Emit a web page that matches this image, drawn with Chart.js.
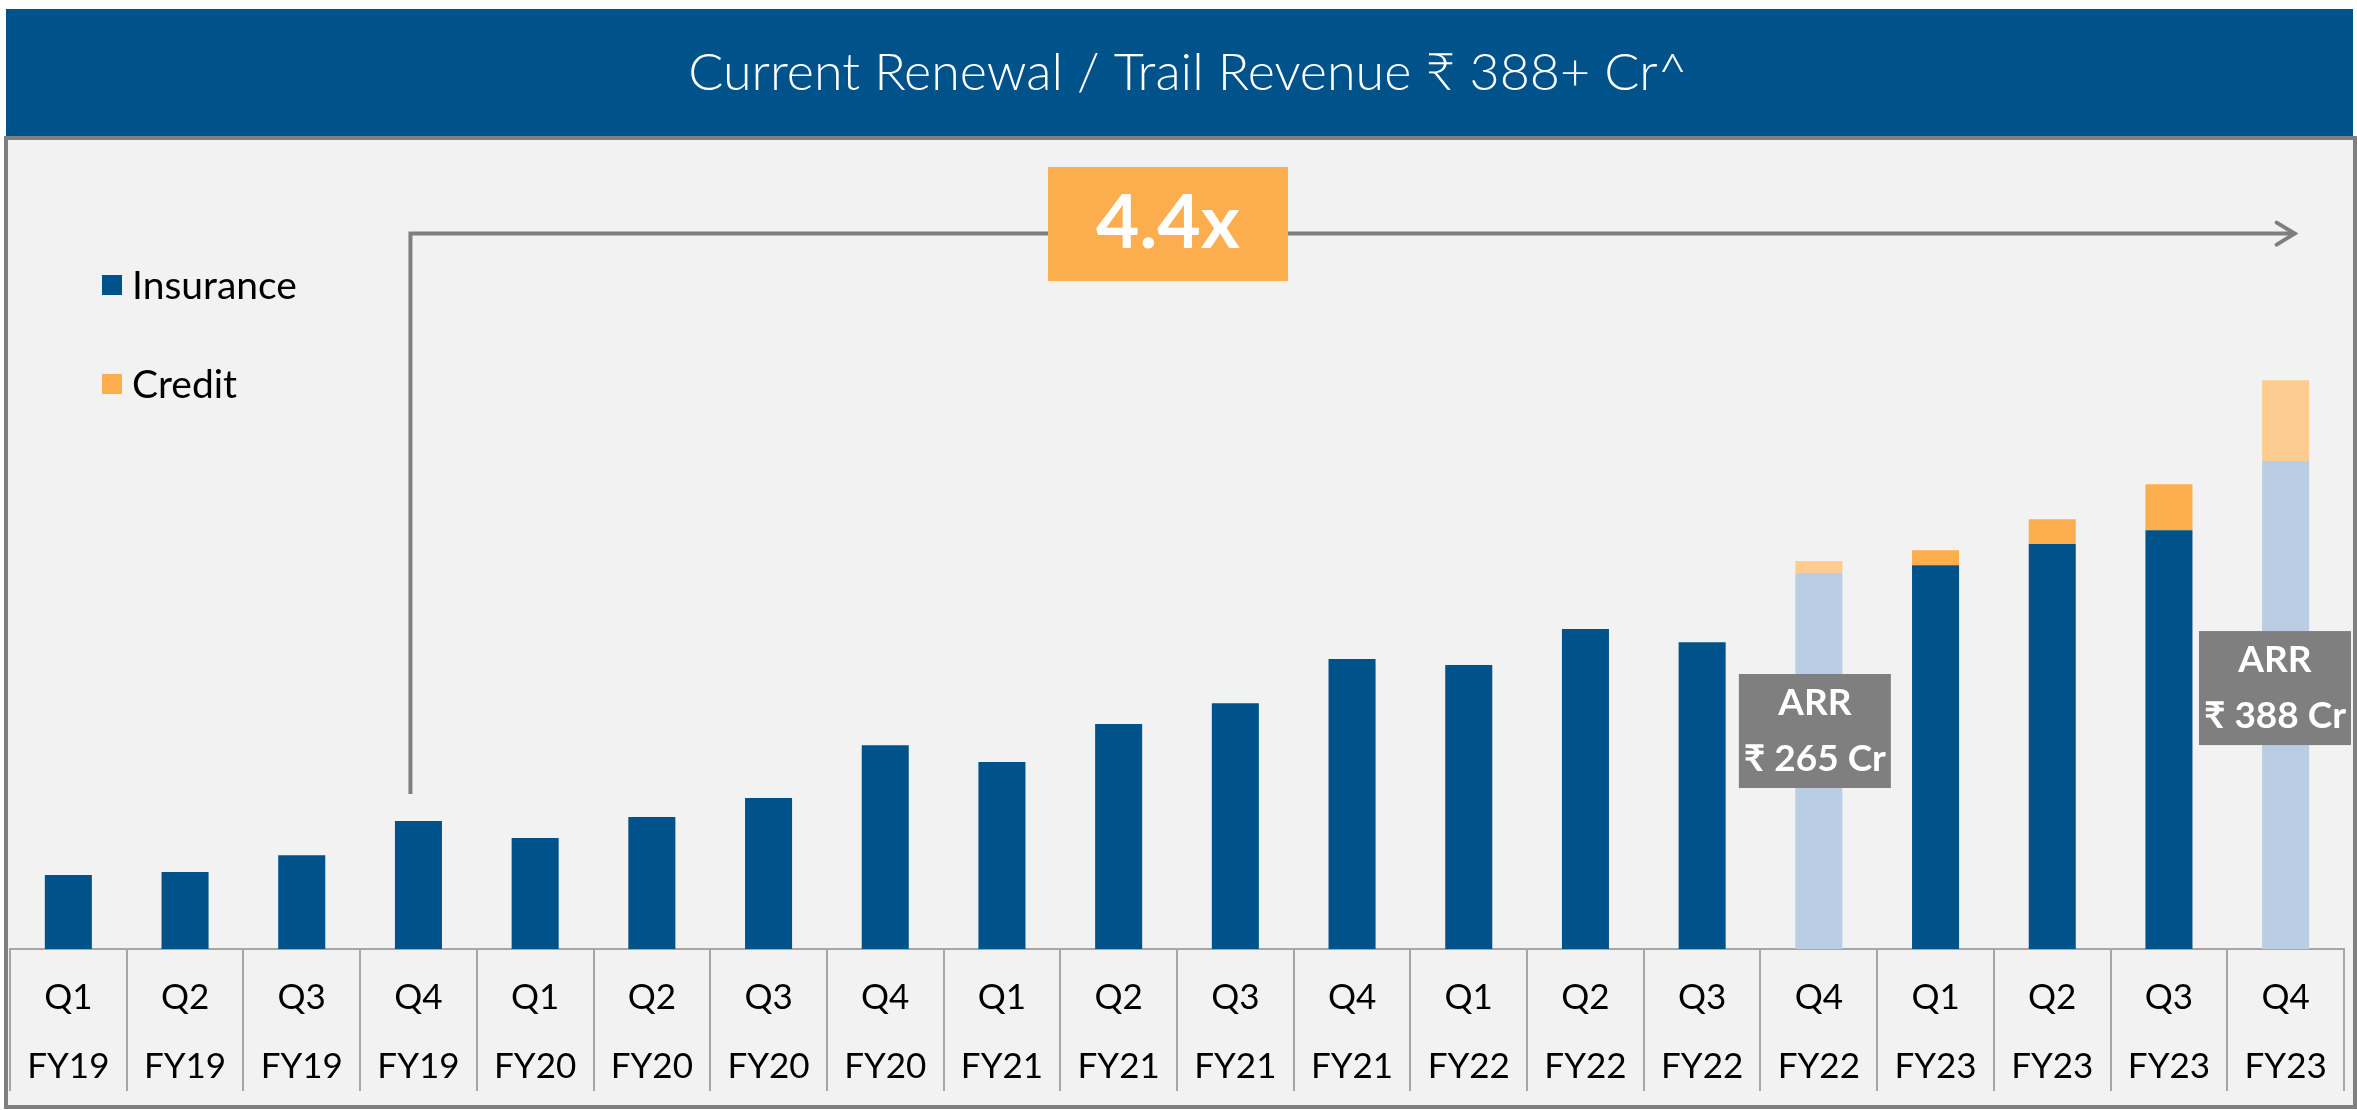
<!DOCTYPE html>
<html>
<head>
<meta charset="utf-8">
<script src="https://cdn.jsdelivr.net/npm/chart.js@4.4.0/dist/chart.umd.min.js"></script>
<style>
  html, body { margin: 0; padding: 0; background: #fff; overflow: hidden; }
</style>
</head>
<body>
<canvas id="myChart" width="2357" height="1110"></canvas>
<script>
// quarterly renewal / trail revenue, annualised, in ₹ Cr
const quarters = ['Q1','Q2','Q3','Q4','Q1','Q2','Q3','Q4','Q1','Q2','Q3','Q4','Q1','Q2','Q3','Q4','Q1','Q2','Q3','Q4'];
const years = ['FY19','FY19','FY19','FY19','FY20','FY20','FY20','FY20','FY21','FY21','FY21','FY21','FY22','FY22','FY22','FY22','FY23','FY23','FY23','FY23'];
const insurance = [50.5, 52.5, 64, 87.3, 75.7, 90, 103, 139, 127.5, 153.4, 167.7, 197.8, 193.7, 218.2, 209.3, 256.4, 261.8, 276.2, 285.7, 332.8];
const credit = [0, 0, 0, 0, 0, 0, 0, 0, 0, 0, 0, 0, 0, 0, 0, 8.2, 10.2, 17, 31.4, 55.2];
// Q4 bars are shown as ARR (lighter shade)
const arrQuarter = [false, false, false, false, false, false, false, false, false, false, false, false, false, false, false, true, false, false, false, true];
const arrText = ['₹ 265 Cr', '₹ 388 Cr'];
const growthText = '4.4x';
const titleText = 'Current Renewal / Trail Revenue ₹ 388+ Cr^';

const BLUE = '#00528a', ORANGE = '#fcad4d';
const LIGHT_BLUE = '#b9cde5', LIGHT_ORANGE = '#fdcc91';
const GREY = '#7f7f7f';
const FONT = 'Lato, "Noto Sans", sans-serif';

const deco = {
  id: 'deco',
  beforeDraw(chart) {
    const c = chart.ctx;
    c.save();
    c.fillStyle = '#fff';
    c.fillRect(0, 0, chart.width, chart.height);
    // content box
    c.fillStyle = '#f2f2f2';
    c.fillRect(6, 137, 2349, 971);
    c.strokeStyle = GREY;
    c.lineWidth = 4;
    c.strokeRect(6, 138, 2349, 969);
    // title band
    c.fillStyle = BLUE;
    c.fillRect(6, 9, 2347, 127);
    c.fillStyle = '#fff';
    c.font = '300 52px ' + FONT;
    c.textAlign = 'center';
    c.textBaseline = 'middle';
    c.fillText(titleText, 1188, 73);
    c.restore();
  },
  afterDraw(chart) {
    const c = chart.ctx;
    const xs = chart.scales.x, ys = chart.scales.y;
    const half = (xs.getPixelForValue(1) - xs.getPixelForValue(0)) / 2;
    const base = chart.chartArea.bottom;
    c.save();

    // table dividers under the axis
    c.strokeStyle = '#a6a6a6';
    c.lineWidth = 2;
    for (let i = 0; i <= quarters.length; i++) {
      const x = Math.round(xs.getPixelForValue(0) - half + i * 2 * half);
      c.beginPath();
      c.moveTo(x, base);
      c.lineTo(x, base + 142);
      c.stroke();
    }

    // legend
    c.font = '39px ' + FONT;
    c.textAlign = 'left';
    c.textBaseline = 'middle';
    const legY = [285, 384];
    chart.data.datasets.forEach((ds, k) => {
      c.fillStyle = k === 0 ? BLUE : ORANGE;
      c.fillRect(102, legY[k] - 10, 20, 20);
      c.fillStyle = '#000';
      c.fillText(ds.label, 132, legY[k] + 1);
    });

    // growth arrow from Q4 FY19 to Q4 FY23
    const xStart = xs.getPixelForValue(3) - 8;
    const yStart = ys.getPixelForValue(insurance[3]) - 27;
    const xEnd = xs.getPixelForValue(19) + 9;
    const yTop = ys.getPixelForValue(488);
    c.strokeStyle = GREY;
    c.lineWidth = 4;
    c.lineCap = 'butt';
    c.beginPath();
    c.moveTo(xStart, yStart);
    c.lineTo(xStart, yTop);
    c.lineTo(xEnd, yTop);
    c.stroke();
    c.lineCap = 'round';
    c.lineJoin = 'miter';
    c.beginPath();
    c.moveTo(xEnd - 18, yTop - 11);
    c.lineTo(xEnd, yTop);
    c.lineTo(xEnd - 18, yTop + 11);
    c.stroke();

    // 4.4x badge
    c.fillStyle = ORANGE;
    c.fillRect(1048, 167, 240, 114);
    c.fillStyle = '#fff';
    c.font = 'bold 75px ' + FONT;
    c.textAlign = 'center';
    c.textBaseline = 'alphabetic';
    c.fillText(growthText, 1168, 248);

    // ARR call-outs
    const boxVals = [148.7, 178];
    let n = 0;
    arrQuarter.forEach((isArr, i) => {
      if (!isArr) return;
      const cx = xs.getPixelForValue(i);
      const left = Math.min(cx - 80, chart.chartArea.right - 145);
      const top = ys.getPixelForValue(boxVals[n]) - 57;
      c.fillStyle = GREY;
      c.fillRect(left, top, 152, 114);
      c.fillStyle = '#fff';
      c.font = 'bold 37px ' + FONT;
      c.fillText('ARR', left + 76, top + 41);
      c.fillText(arrText[n], left + 76, top + 97);
      n++;
    });
    c.restore();
  }
};

new Chart(document.getElementById('myChart'), {
  type: 'bar',
  data: {
    labels: quarters.map((q, i) => [q, years[i]]),
    datasets: [
      {
        label: 'Insurance',
        data: insurance,
        backgroundColor: arrQuarter.map(a => a ? LIGHT_BLUE : BLUE),
        borderWidth: 0,
        barPercentage: 0.403,
        categoryPercentage: 1
      },
      {
        label: 'Credit',
        data: credit,
        backgroundColor: arrQuarter.map(a => a ? LIGHT_ORANGE : ORANGE),
        borderWidth: 0,
        barPercentage: 0.403,
        categoryPercentage: 1
      }
    ]
  },
  options: {
    responsive: false,
    animation: false,
    devicePixelRatio: 1,
    layout: { padding: { top: 216, left: 10, right: 13, bottom: 0 } },
    plugins: {
      legend: { display: false },
      tooltip: { enabled: false }
    },
    scales: {
      x: {
        stacked: true,
        offset: true,
        grid: { display: false, drawTicks: false },
        border: { display: true, color: '#a6a6a6', width: 2 },
        ticks: {
          color: '#000',
          font: { family: FONT, size: 35, lineHeight: 1.97 },
          padding: 14,
          maxRotation: 0,
          autoSkip: false
        },
        afterFit: (scale) => { scale.height = 161; }
      },
      y: { stacked: true, display: false, min: 0, max: 500 }
    }
  },
  plugins: [deco]
});
</script>
</body>
</html>
